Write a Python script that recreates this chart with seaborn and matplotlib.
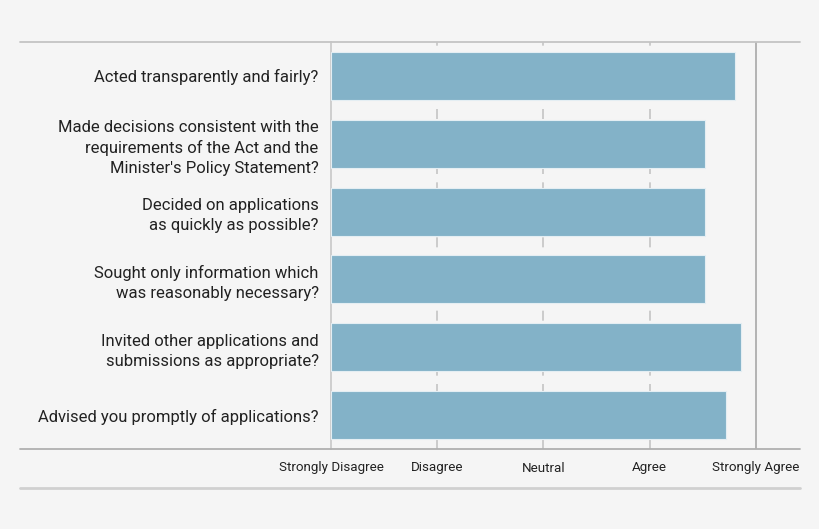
import seaborn as sns
import matplotlib.pyplot as plt
from matplotlib.lines import Line2D
import pandas as pd

questions = [
    "Acted transparently and fairly?",
    "Made decisions consistent with the\nrequirements of the Act and the\nMinister's Policy Statement?",
    "Decided on applications\nas quickly as possible?",
    "Sought only information which\nwas reasonably necessary?",
    "Invited other applications and\nsubmissions as appropriate?",
    "Advised you promptly of applications?",
]
scores = [4.80, 4.52, 4.52, 4.52, 4.86, 4.72]
scale_labels = ["Strongly Disagree", "Disagree", "Neutral", "Agree", "Strongly Agree"]
scale_values = [1, 2, 3, 4, 5]

df = pd.DataFrame({"question": questions, "score": scores})

bg = "#f5f5f5"
sns.set_style("white")
plt.rcParams["font.family"] = ["Roboto", "DejaVu Sans"]

fig = plt.figure(figsize=(8.2, 5.29), dpi=100, facecolor=bg)
W, H = 820, 529
ax = fig.add_axes([331 / W, 1 - 449 / H, (800 - 331) / W, (449 - 42) / H])
ax.set_facecolor(bg)

# bars start at "Strongly Disagree" (1)
df["length"] = df["score"] - 1
sns.barplot(data=df, x="length", y="question", left=1, color="#83b2c8",
            saturation=1, edgecolor="#e4eef3", linewidth=0.8, width=0.71,
            ax=ax, zorder=3)

ax.set_xlim(1, 5 + (800 - 756) / 106.25)
ax.set_ylim(5.5, -0.5)

for v in scale_values[1:-1]:
    ax.axvline(v, color="#c4c4c4", lw=1.2, ls=(0, (6, 5)), zorder=1)
ax.axvline(5, color="#a8a8a8", lw=1.2, zorder=1)

for s in ["top", "right", "bottom"]:
    ax.spines[s].set_visible(False)
ax.spines["left"].set_color("#c8c8c8")
ax.spines["left"].set_linewidth(1.2)

ax.set_xticks(scale_values)
ax.set_xticklabels(scale_labels, fontsize=9.6, color="#222222")
ax.tick_params(axis="x", length=0, pad=9)
ax.tick_params(axis="y", length=0, pad=9, labelsize=12, labelcolor="#222222")
for lab in ax.get_yticklabels():
    lab.set_horizontalalignment("right")
    lab.set_multialignment("right")
    lab.set_linespacing(1.4)
ax.set_xlabel("")
ax.set_ylabel("")

# horizontal rules across the whole figure width
for y, c, lw in [(42, "#c4c4c4", 1.3), (449, "#b0b0b0", 1.3), (488, "#d0d0d0", 2.0)]:
    fig.add_artist(Line2D([20 / W, 800 / W], [1 - y / H, 1 - y / H],
                          color=c, lw=lw, transform=fig.transFigure))

fig.savefig("out.png", dpi=100, facecolor=bg)
